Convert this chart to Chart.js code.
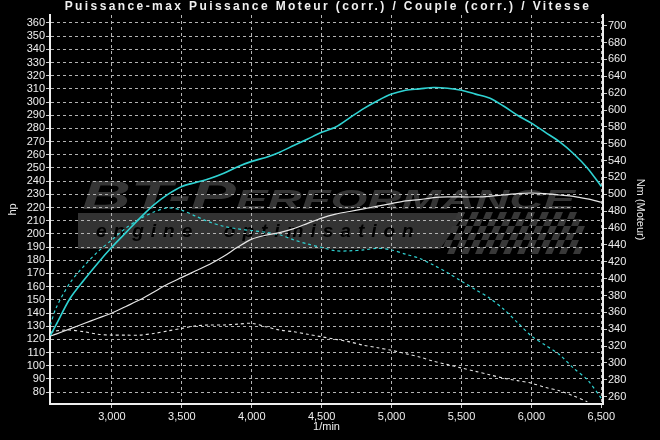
<!DOCTYPE html>
<html>
<head>
<meta charset="utf-8">
<style>
  html, body { margin: 0; padding: 0; background: #000; }
  #wrap { width: 660px; height: 440px; }
</style>
<script src="https://cdn.jsdelivr.net/npm/chart.js@4.4.0/dist/chart.umd.min.js"></script>
</head>
<body>
<div id="wrap"><canvas id="dyno" width="660" height="440"></canvas></div>
<script>
let rpm = [2560, 2600, 2700, 2800, 2900, 3000, 3100, 3200, 3300, 3400, 3500, 3600, 3700, 3800, 3900,
  4000, 4100, 4200, 4300, 4400, 4500, 4600, 4700, 4800, 4900, 5000, 5100, 5200, 5300, 5400,
  5500, 5600, 5700, 5800, 5900, 6000, 6100, 6200, 6300, 6400, 6500];

// puissance moteur (hp)
let powerTuned = [123, 131, 151, 165, 178, 190, 201, 212, 222, 230, 236, 239, 242, 246, 251,
  255, 258, 262, 267, 272, 277, 281, 288, 295, 301, 306, 309, 310, 311, 310.5,
  309, 306, 303, 297, 290, 284, 277, 270, 261, 250, 236];
let powerStock = [122.5, 124, 128, 132, 136, 140, 145, 150, 156, 162, 167, 172, 177, 183, 190,
  196, 199, 201, 204, 208, 212, 215, 217, 219, 221, 223, 225, 226, 227.5, 228,
  228, 228, 228.5, 229.5, 230.5, 231, 230.5, 229.5, 228.5, 226.5, 224];

// couple (Nm)
let torqueTuned = [345, 365, 395, 415, 432, 446, 460, 471, 479, 484, 481, 474, 467, 462, 459,
  457, 455, 452, 446, 441, 437, 433, 433, 434, 436, 434, 429, 424, 416, 407,
  397, 387, 377, 364, 348, 332, 321, 310, 294, 280, 258];
let torqueStock = [336, 338, 339, 337, 334, 333, 333, 333, 335, 338, 341, 344, 345, 345, 346,
  347, 343, 339, 337, 334, 331, 328, 325, 321, 318, 315, 311, 307, 302, 298,
  294, 290, 286, 282, 279, 276, 271, 267, 261, 254, null];

let rpmTicks = [3000, 3500, 4000, 4500, 5000, 5500, 6000, 6500];
let hpTicks = [];
for (let v = 80; v <= 360; v += 10) hpTicks.push(v);
let nmTicks = [];
for (let v = 260; v <= 700; v += 20) nmTicks.push(v);

let cyan = '#2fd3d3';
let white = '#e6e6e6';
let font = '"Liberation Sans", Arial, sans-serif';

function pts(values) {
  return rpm.map((r, i) => ({ x: r, y: values[i] }));
}

// fond noir + filigrane
let background = {
  id: 'background',
  beforeDraw(chart) {
    let ctx = chart.ctx;
    ctx.save();
    ctx.fillStyle = '#000';
    ctx.fillRect(0, 0, chart.width, chart.height);

    // bande grise
    ctx.fillStyle = '#333';
    ctx.beginPath();
    ctx.moveTo(78, 213);
    ctx.lineTo(465, 213);
    ctx.lineTo(440, 249);
    ctx.lineTo(78, 249);
    ctx.closePath();
    ctx.fill();

    // damier
    ctx.fillStyle = '#383838';
    let s = 7;
    for (let r = 0; r < 6; r++) {
      for (let c = 0; c < 20; c++) {
        if ((r + c) % 2) continue;
        let x0 = 455 + c * s - r * 3;
        let y0 = 212 + r * s;
        if (x0 > 575) continue;
        ctx.beginPath();
        ctx.moveTo(x0 + 3, y0);
        ctx.lineTo(x0 + s + 3, y0);
        ctx.lineTo(x0 + s, y0 + s);
        ctx.lineTo(x0, y0 + s);
        ctx.closePath();
        ctx.fill();
      }
    }

    // BT-Performance
    ctx.fillStyle = '#353535';
    ctx.font = 'italic small-caps bold 40px ' + font;
    ctx.textBaseline = 'alphabetic';
    let txt = 'BT-Performance';
    let w = ctx.measureText(txt).width;
    ctx.translate(82, 209);
    ctx.scale(493 / w, 1);
    ctx.fillText(txt, 0, 0);
    ctx.restore();

    ctx.save();
    ctx.fillStyle = '#000';
    ctx.font = 'italic bold 19px ' + font;
    ctx.letterSpacing = '7px';
    ctx.textBaseline = 'middle';
    ctx.fillText('engine  optimisation', 96, 232);
    ctx.restore();
  }
};

let titlePlugin = {
  id: 'titre',
  afterDraw(chart) {
    let ctx = chart.ctx;
    ctx.save();
    ctx.fillStyle = '#f0f0f0';
    ctx.font = 'bold 12px ' + font;
    ctx.letterSpacing = '2.4px';
    ctx.textAlign = 'center';
    ctx.textBaseline = 'middle';
    ctx.fillText('Puissance-max Puissance Moteur (corr.) / Couple (corr.) / Vitesse', 328, 7);
    ctx.restore();
  }
};

let ctx = document.getElementById('dyno').getContext('2d');

let chart = new Chart(ctx, {
  type: 'line',
  data: {
    datasets: [
      { data: pts(powerTuned), borderColor: cyan, borderWidth: 1.6, yAxisID: 'hp' },
      { data: pts(powerStock), borderColor: white, borderWidth: 1.2, yAxisID: 'hp' },
      { data: pts(torqueTuned), borderColor: cyan, borderWidth: 1.2, borderDash: [3, 3], yAxisID: 'nm' },
      { data: pts(torqueStock), borderColor: white, borderWidth: 1.1, borderDash: [3, 3], yAxisID: 'nm' }
    ]
  },
  options: {
    responsive: false,
    animation: false,
    devicePixelRatio: 1,
    layout: { padding: { top: 15, left: 0, right: 0, bottom: 0 } },
    elements: {
      point: { radius: 0 },
      line: { tension: 0.3, fill: false }
    },
    plugins: {
      legend: { display: false },
      title: { display: false },
      tooltip: { enabled: false }
    },
    scales: {
      x: {
        type: 'linear',
        min: 2557,
        max: 6512,
        afterBuildTicks: s => { s.ticks = rpmTicks.map(v => ({ value: v })); },
        afterFit: s => { s.height = 36; },
        ticks: {
          color: '#eee',
          font: { family: font, size: 11 },
          padding: 2,
          maxRotation: 0,
          autoSkip: false,
          callback: v => v.toLocaleString('en-US')
        },
        grid: { color: '#b4b4b4', tickColor: '#ccc', tickLength: 4 },
        border: { color: '#eee', width: 2, dash: [3, 3] },
        title: {
          display: true, text: '1/min', color: '#eee',
          font: { family: font, size: 11 }, padding: { top: 0, bottom: 6 }
        }
      },
      hp: {
        position: 'left',
        min: 71,
        max: 366,
        afterBuildTicks: s => { s.ticks = hpTicks.map(v => ({ value: v })); },
        afterFit: s => { s.width = 50; },
        ticks: { color: '#eee', font: { family: font, size: 11 }, padding: 1, autoSkip: false },
        grid: { color: '#b4b4b4', tickColor: '#ccc', tickLength: 4 },
        border: { color: '#eee', width: 2, dash: [3, 3] },
        title: {
          display: true, text: 'hp', color: '#eee',
          font: { family: font, size: 11 }, padding: { top: 6, bottom: 0 }
        }
      },
      nm: {
        position: 'right',
        min: 251.3,
        max: 712.7,
        afterBuildTicks: s => { s.ticks = nmTicks.map(v => ({ value: v })); },
        afterFit: s => { s.width = 57; },
        ticks: { color: '#eee', font: { family: font, size: 11 }, padding: 1, autoSkip: false },
        grid: { drawOnChartArea: false, tickColor: '#ccc', tickLength: 4 },
        border: { color: '#eee', width: 2 },
        title: {
          display: true, text: 'Nm (Moteur)', color: '#eee',
          font: { family: font, size: 11 }, padding: { top: 13, bottom: 0 }
        }
      }
    }
  },
  plugins: [background, titlePlugin]
});
</script>
</body>
</html>
